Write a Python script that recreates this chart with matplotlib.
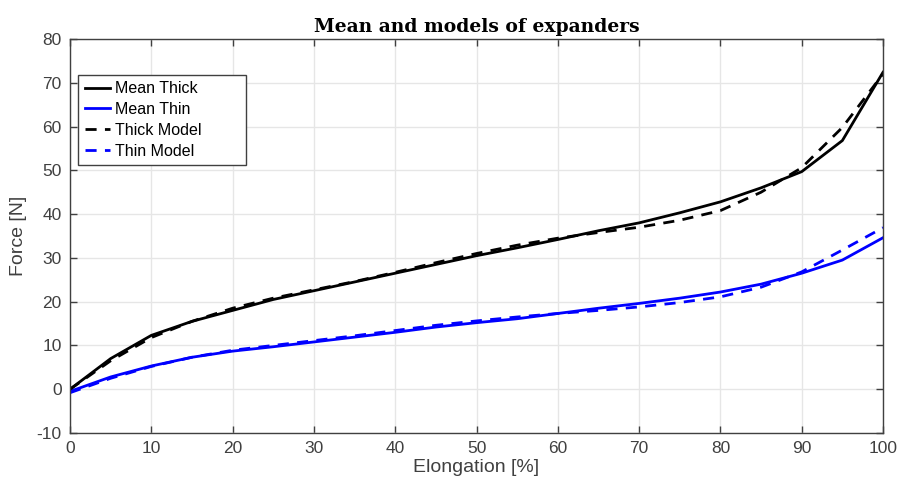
import numpy as np
import matplotlib.pyplot as plt

# elongation [%]
x = [0, 5, 10, 15, 20, 25, 30, 35, 40, 45, 50, 55, 60, 65, 70, 75, 80, 85, 90, 95, 100]

mean_thick = [0, 7, 12.3, 15.5, 18, 20.5, 22.5, 24.5, 26.5, 28.5, 30.5, 32.3,
              34.2, 36.2, 38, 40.3, 42.8, 46, 49.7, 56.8, 72.4]
mean_thin = [-0.5, 2.8, 5.3, 7.3, 8.7, 9.7, 10.8, 11.9, 13, 14.2, 15.2, 16.1,
             17.3, 18.5, 19.6, 20.8, 22.2, 24, 26.5, 29.5, 34.6]

thick_model = [0, 6.5, 11.8, 15.5, 18.5, 20.8, 22.7, 24.6, 26.7, 28.9, 31, 32.9,
               34.5, 35.8, 37, 38.6, 40.8, 45, 50.6, 59.8, 72]
thin_model = [-0.8, 2.5, 5.2, 7.3, 8.9, 10, 11.1, 12.2, 13.4, 14.6, 15.6, 16.5,
              17.3, 18, 18.8, 19.8, 21.1, 23.3, 26.8, 31.8, 36.9]

plt.rcParams['font.family'] = ['Liberation Sans', 'DejaVu Sans']
plt.rcParams['axes.unicode_minus'] = False
gray = '#404040'

fig = plt.figure(figsize=(8.99, 4.87), dpi=100)
ax = fig.add_axes([0.0779, 0.1109, 0.9043, 0.809])

ax.plot(x, mean_thick, color='k', lw=2, label='Mean Thick')
ax.plot(x, mean_thin, color='b', lw=2, label='Mean Thin')
ax.plot(x, thick_model, color='k', lw=2, ls=(0, (4, 3)), label='Thick Model')
ax.plot(x, thin_model, color='b', lw=2, ls=(0, (4, 3)), label='Thin Model')

ax.set_xlim(0, 100)
ax.set_ylim(-10, 80)
ax.set_xticks(np.arange(0, 101, 10))
ax.set_yticks(np.arange(-10, 81, 10))
ax.grid(True, color='#e6e6e6', lw=1)
ax.set_axisbelow(True)
ax.tick_params(direction='in', top=True, right=True, length=5, width=1,
               colors=gray, labelsize=12.5, labelcolor=gray, pad=6)
for s in ax.spines.values():
    s.set_color(gray)
    s.set_linewidth(1)

ax.set_xlabel('Elongation [%]', fontsize=14, color=gray, labelpad=2)
ax.set_ylabel('Force [N]', fontsize=14, color=gray, labelpad=7)
ax.set_title('Mean and models of expanders', family=['DejaVu Serif'],
             fontweight='bold', fontsize=13.5, pad=5)

leg = ax.legend(loc='upper left', bbox_to_anchor=(0.01, 0.0, 0.207, 0.909),
                mode='expand', borderaxespad=0, fontsize=11.5, fancybox=False,
                framealpha=1, edgecolor=gray, handlelength=1.6, handletextpad=0.3,
                borderpad=0.4, labelspacing=0.36)
leg.get_frame().set_linewidth(1)

fig.savefig('out.png', dpi=100)
